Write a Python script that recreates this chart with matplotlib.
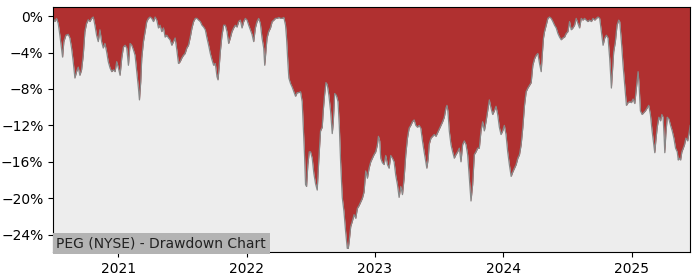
import matplotlib
matplotlib.use("Agg")
import matplotlib.pyplot as plt
import matplotlib.dates as mdates
import matplotlib.ticker as mticker
import numpy as np
import pandas as pd

# drawdown (%), time as decimal years
t_2020 = [2020.495, 2020.508, 2020.521, 2020.534, 2020.547, 2020.568, 2020.578, 2020.594, 2020.612, 2020.625,
          2020.638, 2020.651, 2020.664, 2020.677, 2020.690, 2020.703, 2020.716, 2020.729, 2020.742, 2020.755,
          2020.768, 2020.781, 2020.794, 2020.807, 2020.820, 2020.833, 2020.846, 2020.859, 2020.872, 2020.885,
          2020.898, 2020.911, 2020.924, 2020.938, 2020.951, 2020.964, 2020.977, 2020.990]
dd_2020 = [-0.25, -0.6, -0.25, -0.8, -2.1, -4.5, -2.8, -2.1, -2.0, -2.4,
           -3.5, -5.0, -6.8, -6.1, -5.6, -6.5, -5.9, -4.3, -1.7, -0.8,
           -0.4, -0.6, -0.25, -0.1, -1.0, -2.1, -2.8, -1.5, -2.8, -3.5,
           -3.0, -3.9, -5.0, -5.7, -6.1, -5.9, -6.1, -5.0]

t_2021 = [2021.003, 2021.016, 2021.029, 2021.042, 2021.055, 2021.068, 2021.081, 2021.094, 2021.107, 2021.120,
          2021.133, 2021.146, 2021.159, 2021.167, 2021.177, 2021.185, 2021.198, 2021.211, 2021.224, 2021.237,
          2021.250, 2021.263, 2021.276, 2021.289, 2021.302, 2021.315, 2021.328, 2021.341, 2021.354, 2021.367,
          2021.380, 2021.393, 2021.406, 2021.419, 2021.432, 2021.445, 2021.458, 2021.471, 2021.484, 2021.497,
          2021.510, 2021.523, 2021.536, 2021.549, 2021.563, 2021.576, 2021.589, 2021.602, 2021.615, 2021.628,
          2021.641, 2021.654, 2021.667, 2021.680, 2021.693, 2021.706, 2021.719, 2021.732, 2021.745, 2021.758,
          2021.771, 2021.779, 2021.789, 2021.797, 2021.810, 2021.823, 2021.836, 2021.849, 2021.862, 2021.875,
          2021.888, 2021.901, 2021.914, 2021.927, 2021.940, 2021.953, 2021.966, 2021.979, 2021.992]
dd_2021 = [-5.7, -6.5, -4.6, -3.4, -3.2, -3.5, -5.4, -3.0, -3.2, -3.7,
           -4.3, -6.1, -7.9, -9.2, -7.2, -4.6, -2.8, -1.7, -0.6, -0.25,
           -0.1, -0.25, -0.6, -0.1, -0.44, -1.3, -1.0, -1.7, -1.3, -2.3,
           -2.1, -2.4, -2.6, -3.2, -2.8, -2.4, -3.7, -5.2, -5.0, -4.6,
           -4.3, -4.1, -3.5, -3.2, -2.3, -1.3, -0.6, -0.25, -0.25, -0.44,
           -0.6, -1.0, -1.2, -1.5, -2.4, -3.2, -4.1, -4.8, -5.4, -5.2,
           -6.65, -7.0, -5.4, -3.9, -2.1, -1.0, -1.0, -1.7, -3.0, -2.4,
           -1.7, -1.3, -1.0, -1.2, -0.6, -0.44, -1.3, -0.6, -0.25]

t_2022 = [2022.005, 2022.018, 2022.031, 2022.044, 2022.057, 2022.070, 2022.083, 2022.096, 2022.109, 2022.122,
          2022.135, 2022.143, 2022.154, 2022.161, 2022.174, 2022.188, 2022.201, 2022.214, 2022.227, 2022.240,
          2022.253, 2022.266, 2022.279, 2022.292, 2022.305, 2022.313, 2022.323, 2022.331, 2022.344, 2022.357,
          2022.370, 2022.383, 2022.396, 2022.409, 2022.422, 2022.435, 2022.443, 2022.453, 2022.461, 2022.469,
          2022.479, 2022.490, 2022.500, 2022.513, 2022.526, 2022.539, 2022.552, 2022.565, 2022.578, 2022.591,
          2022.599, 2022.609, 2022.620, 2022.630, 2022.643, 2022.656, 2022.669, 2022.677, 2022.688, 2022.701,
          2022.714, 2022.724, 2022.734, 2022.747, 2022.760, 2022.773, 2022.786, 2022.794, 2022.802, 2022.813,
          2022.826, 2022.839, 2022.852, 2022.865, 2022.878, 2022.891, 2022.904, 2022.917, 2022.930, 2022.943,
          2022.956, 2022.969, 2022.982, 2022.995]
dd_2022 = [-0.44, -1.0, -1.5, -2.0, -2.8, -1.3, -0.6, -0.25, -0.8, -2.4,
           -3.5, -5.4, -3.5, -2.4, -1.7, -1.3, -0.6, -0.44, -0.25, -0.25,
           -0.15, -0.25, -0.25, -0.15, -1.0, -2.4, -5.0, -6.8, -7.4, -7.8,
           -8.3, -8.8, -8.4, -8.4, -8.3, -9.4, -12.0, -15.2, -18.5, -18.7,
           -16.3, -14.9, -14.9, -15.6, -17.3, -18.4, -19.1, -15.6, -12.6, -12.2,
           -10.4, -8.7, -7.3, -7.5, -8.7, -10.4, -12.9, -11.7, -8.5, -8.7,
           -9.4, -12.0, -15.9, -19.9, -21.4, -23.6, -25.5, -25.5, -24.6, -23.1,
           -22.5, -21.8, -22.2, -21.1, -20.8, -20.4, -20.0, -19.3, -17.0, -17.8,
           -16.7, -16.0, -15.6, -15.2]

t_2023 = [2023.008, 2023.021, 2023.029, 2023.039, 2023.047, 2023.060, 2023.073, 2023.086, 2023.099, 2023.112,
          2023.125, 2023.138, 2023.151, 2023.164, 2023.177, 2023.190, 2023.203, 2023.216, 2023.229, 2023.242,
          2023.255, 2023.268, 2023.281, 2023.294, 2023.307, 2023.320, 2023.333, 2023.346, 2023.359, 2023.372,
          2023.385, 2023.398, 2023.406, 2023.417, 2023.424, 2023.438, 2023.451, 2023.464, 2023.477, 2023.490,
          2023.503, 2023.516, 2023.529, 2023.542, 2023.555, 2023.563, 2023.570, 2023.581, 2023.594, 2023.607,
          2023.620, 2023.633, 2023.646, 2023.659, 2023.672, 2023.685, 2023.698, 2023.711, 2023.724, 2023.737,
          2023.750, 2023.763, 2023.776, 2023.789, 2023.802, 2023.815, 2023.828, 2023.841, 2023.854, 2023.867,
          2023.880, 2023.893, 2023.906, 2023.919, 2023.932, 2023.945, 2023.958, 2023.971, 2023.984, 2023.997]
dd_2023 = [-14.9, -14.1, -13.2, -13.7, -15.6, -16.1, -16.3, -15.3, -16.3, -16.7,
           -15.3, -15.6, -16.0, -17.5, -18.5, -19.9, -18.7, -19.6, -17.8, -15.2,
           -13.4, -12.3, -12.0, -11.6, -11.4, -12.0, -12.2, -12.0, -12.3, -13.7,
           -14.9, -16.0, -16.7, -15.6, -14.1, -13.4, -13.2, -13.0, -13.2, -12.8,
           -12.4, -12.0, -11.6, -11.1, -10.1, -9.8, -10.4, -12.6, -14.1, -14.9,
           -15.6, -15.2, -14.9, -14.5, -16.0, -14.1, -13.7, -14.1, -15.2, -17.8,
           -20.3, -18.5, -15.2, -14.9, -14.5, -14.5, -12.6, -11.6, -12.6, -11.6,
           -10.4, -9.2, -10.1, -10.8, -10.4, -9.9, -10.8, -12.2, -13.0, -12.6]

t_2024 = [2024.010, 2024.023, 2024.036, 2024.049, 2024.063, 2024.076, 2024.089, 2024.102, 2024.115, 2024.128,
          2024.141, 2024.154, 2024.167, 2024.180, 2024.193, 2024.206, 2024.219, 2024.232, 2024.245, 2024.258,
          2024.271, 2024.284, 2024.297, 2024.305, 2024.315, 2024.323, 2024.336, 2024.349, 2024.362, 2024.375,
          2024.388, 2024.401, 2024.414, 2024.427, 2024.440, 2024.453, 2024.466, 2024.479, 2024.492, 2024.505,
          2024.518, 2024.531, 2024.544, 2024.557, 2024.570, 2024.583, 2024.596, 2024.609, 2024.622, 2024.635,
          2024.648, 2024.661, 2024.674, 2024.688, 2024.701, 2024.714, 2024.727, 2024.740, 2024.753, 2024.766,
          2024.779, 2024.792, 2024.805, 2024.818, 2024.831, 2024.844, 2024.852, 2024.862, 2024.875, 2024.888,
          2024.901, 2024.909, 2024.922, 2024.935, 2024.948, 2024.961, 2024.974, 2024.987]
dd_2024 = [-12.0, -13.0, -14.9, -16.3, -17.6, -17.1, -16.7, -16.3, -15.6, -15.2,
           -14.1, -12.2, -9.8, -8.3, -7.9, -7.6, -7.3, -5.4, -4.7, -4.3,
           -4.1, -5.2, -6.1, -4.3, -2.4, -1.7, -1.0, -0.25, -0.1, -0.25,
           -0.6, -1.0, -1.3, -1.9, -2.3, -2.6, -2.4, -2.3, -1.9, -1.7,
           -0.6, -1.5, -1.3, -1.0, -0.25, -0.8, -1.3, -0.25, -0.44, -0.25,
           -0.44, -0.6, -0.44, -0.6, -0.25, -0.44, -0.25, -0.1, -0.25, -1.7,
           -3.2, -2.4, -2.1, -2.4, -4.7, -7.9, -6.1, -3.9, -2.8, -1.0,
           -0.44, -0.6, -2.8, -5.4, -7.6, -9.8, -9.5, -9.4]

t_2025 = [2025.000, 2025.013, 2025.026, 2025.039, 2025.052, 2025.060, 2025.070, 2025.083, 2025.096, 2025.109,
          2025.122, 2025.135, 2025.148, 2025.161, 2025.174, 2025.182, 2025.190, 2025.201, 2025.214, 2025.227,
          2025.237, 2025.247, 2025.255, 2025.260, 2025.268, 2025.279, 2025.292, 2025.305, 2025.318, 2025.331,
          2025.344, 2025.357, 2025.365, 2025.372, 2025.383, 2025.393, 2025.404, 2025.414, 2025.424, 2025.438,
          2025.448, 2025.458]
dd_2025 = [-9.5, -9.1, -9.6, -7.9, -6.1, -7.6, -10.4, -10.8, -10.6, -10.4,
           -10.1, -9.8, -10.8, -12.6, -14.1, -15.0, -13.7, -12.2, -11.1, -11.5,
           -10.8, -11.1, -13.3, -15.0, -13.0, -11.1, -11.3, -12.0, -12.6, -13.4,
           -14.5, -14.9, -15.8, -15.6, -15.8, -14.9, -14.5, -14.1, -13.4, -13.7,
           -12.9, -12.0]

t = np.array(t_2020 + t_2021 + t_2022 + t_2023 + t_2024 + t_2025)
dd = np.array(dd_2020 + dd_2021 + dd_2022 + dd_2023 + dd_2024 + dd_2025)
dates = pd.Timestamp("2020-01-01") + pd.to_timedelta((t - 2020) * 365.25, unit="D")

y_top, y_bottom = 1.0, -25.9

fig = plt.figure(figsize=(7, 2.8), dpi=100)
ax = fig.add_axes([0.076, 0.1, 0.91, 0.875])
ax.set_facecolor("#ededed")

ax.fill_between(dates, dd, y_top, color="#b03030", linewidth=0)
ax.plot(dates, dd, color="#888888", linewidth=0.9)

ax.set_xlim(dates[0], dates[-1])
ax.set_ylim(y_bottom, y_top)
ax.set_yticks([0, -4, -8, -12, -16, -20, -24])
ax.yaxis.set_major_formatter(mticker.PercentFormatter(decimals=0))
ax.xaxis.set_major_locator(mdates.YearLocator())
ax.xaxis.set_major_formatter(mdates.DateFormatter("%Y"))

ax.text(0.005, 0.018, "PEG (NYSE) - Drawdown Chart", transform=ax.transAxes,
        fontsize=10, color="#222222",
        bbox=dict(facecolor="#b3b3b3", edgecolor="none", pad=2.5))

fig.savefig("out.png")
